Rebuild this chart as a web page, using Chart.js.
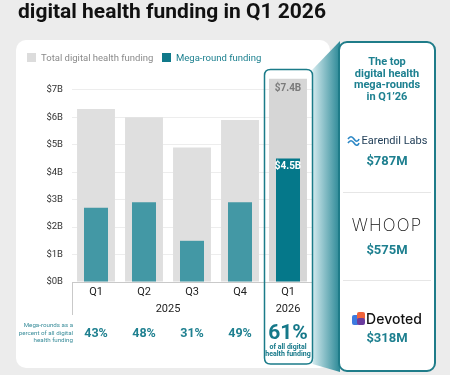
<!DOCTYPE html>
<html><head><meta charset="utf-8">
<script src="https://cdn.jsdelivr.net/npm/chart.js@4.4.1/dist/chart.umd.min.js"></script>
<style>
html,body{margin:0;padding:0;width:450px;height:375px;overflow:hidden;background:#ececec;font-family:Roboto,"Noto Sans",sans-serif;}
.abs{position:absolute;white-space:nowrap;}
#title{left:18px;top:-1px;font-size:21px;line-height:24px;font-weight:700;color:#111;z-index:3;}
#card{left:16px;top:40px;width:314px;height:328px;background:#fff;border-radius:10px;z-index:0;}
canvas{position:absolute;left:0;top:0;z-index:1;}
.sw{width:9px;height:9px;z-index:3;}
.lg{font-size:9.5px;line-height:12px;z-index:3;}
#panel{left:338px;top:41px;width:98px;height:331px;box-sizing:border-box;border:2px solid #1f7c89;border-radius:9px;background:#fff;z-index:2;}
.pt{z-index:3;text-align:center;}
.hd{left:338px;width:98px;top:56px;font-size:11px;line-height:11.7px;font-weight:700;color:#1d8090;white-space:normal;}
.amt{left:338px;width:98px;font-size:13px;line-height:16px;font-weight:700;color:#1d7f8f;}
.sep{left:343px;width:88px;height:1px;background:#e6e6e6;z-index:3;}
</style></head>
<body>
<div id="title" class="abs">digital health funding in Q1 2026</div>
<div id="card" class="abs"></div>
<div class="abs sw" style="left:27px;top:53px;background:#dcdcdc"></div>
<div class="abs lg" id="lg1" style="left:41px;top:52px;color:#8a8a8a"></div>
<div class="abs sw" style="left:162px;top:53px;background:#10798a"></div>
<div class="abs lg" id="lg2" style="left:176px;top:52px;color:#1a7f8e"></div>
<canvas id="c" width="450" height="375"></canvas>
<div id="panel" class="abs"></div>
<div class="abs pt hd">The top<br>digital health<br>mega-rounds<br>in Q1’26</div>

<div class="abs pt" style="left:338px;width:98px;top:133px;height:14px;display:flex;justify-content:center;align-items:center;">
  <svg width="13" height="11" viewBox="0 0 13 11" style="margin-right:2px"><path d="M1 4 C3 1,5 1,7 4 S11 7,12 4" fill="none" stroke="#2a86c5" stroke-width="1.6"/><path d="M1 8 C3 5,5 5,7 8 S11 11,12 8" fill="none" stroke="#2a86c5" stroke-width="1.6"/></svg>
  <span id="co0" style="font-size:11px;color:#24415a;font-family:Roboto"></span>
</div>
<div class="abs pt amt" id="am0" style="top:153px"></div>
<div class="abs sep" style="top:192px"></div>
<div class="abs pt" id="co1" style="left:338px;width:98px;top:214px;font-family:Inter,sans-serif;font-weight:200;font-size:17px;line-height:22px;letter-spacing:1.2px;color:#111"></div>
<div class="abs pt amt" id="am1" style="top:242px"></div>
<div class="abs sep" style="top:280px"></div>
<div class="abs pt" style="left:338px;width:98px;top:309px;height:18px;display:flex;justify-content:center;align-items:center;">
  <svg width="13" height="13" viewBox="0 0 13 13" style="margin-right:1px"><rect x="0" y="3" width="7" height="10" rx="2" fill="#3d7be0"/><rect x="5" y="0" width="8" height="8" rx="2" fill="#f0643c"/><rect x="5" y="6" width="8" height="7" rx="2" fill="#6b3c9e"/></svg>
  <span id="co2" style="font-family:Inter,sans-serif;font-weight:500;font-size:14px;color:#111"></span>
</div>
<div class="abs pt amt" id="am2" style="top:330px"></div>

<script>
const quarters = ['Q1','Q2','Q3','Q4','Q1'];
const years = ['2025','2025','2025','2025','2026'];
const totalFunding = [6.3, 6.0, 4.9, 5.9, 7.4];
const megaFunding = [2.7, 2.9, 1.5, 2.9, 4.5];
const megaShare = [43, 48, 31, 49, 61];
const seriesNames = ['Total digital health funding', 'Mega-round funding'];
const captionLines = ['Mega-rounds as a', 'percent of all digital', 'health funding'];
const highlightNote = ['of all digital', 'health funding'];
const topCompanies = ['Earendil Labs', 'WHOOP', 'Devoted'];
const topAmounts = ['$787M', '$575M', '$318M'];
const highlightIndex = 4;

document.getElementById('lg1').textContent = seriesNames[0];
document.getElementById('lg2').textContent = seriesNames[1];
topCompanies.forEach((c,i)=>{document.getElementById('co'+i).textContent=c;});
topAmounts.forEach((a,i)=>{document.getElementById('am'+i).textContent=a;});

const totalColors = totalFunding.map((v,i)=> i===highlightIndex ? '#d6d6d6' : '#dfdfdf');
const megaColors = megaFunding.map((v,i)=> i===highlightIndex ? '#05788a' : '#4398a5');
const TEAL = '#1b7b89';
const F = 'Roboto, "Noto Sans", sans-serif';

function rr(ctx,x,y,w,h,r){ctx.beginPath();ctx.moveTo(x+r,y);ctx.lineTo(x+w-r,y);ctx.quadraticCurveTo(x+w,y,x+w,y+r);ctx.lineTo(x+w,y+h-r);ctx.quadraticCurveTo(x+w,y+h,x+w-r,y+h);ctx.lineTo(x+r,y+h);ctx.quadraticCurveTo(x,y+h,x,y+h-r);ctx.lineTo(x,y+r);ctx.quadraticCurveTo(x,y,x+r,y);ctx.closePath();}

const extras = {
  id:'extras',
  afterDatasetsDraw(chart){
    const ctx = chart.ctx;
    const tb = chart.getDatasetMeta(0).data[highlightIndex];
    const mb = chart.getDatasetMeta(1).data[highlightIndex];
    ctx.save();
    ctx.textAlign='center'; ctx.textBaseline='middle';
    ctx.font = '700 10px '+F;
    ctx.fillStyle='#7a7a7a';
    ctx.fillText('$'+totalFunding[highlightIndex].toFixed(1)+'B', tb.x, tb.y+9.5);
    ctx.fillStyle='#ffffff';
    ctx.fillText('$'+megaFunding[highlightIndex].toFixed(1)+'B', mb.x, mb.y+8.5);
    ctx.restore();
  },
  afterDraw(chart){
    const ctx = chart.ctx, xs = chart.scales.x, ca = chart.chartArea;
    ctx.save();
    // axis stub below
    ctx.strokeStyle='#c9c9c9'; ctx.lineWidth=1;
    ctx.beginPath(); ctx.moveTo(ca.left+0.5, ca.bottom); ctx.lineTo(ca.left+0.5, 315); ctx.stroke();
    // year labels
    ctx.fillStyle='#222'; ctx.font='11px '+F; ctx.textAlign='center'; ctx.textBaseline='middle';
    let s=0;
    for(let i=1;i<=years.length;i++){
      if(i===years.length || years[i]!==years[s]){
        const x=(xs.getPixelForValue(s)+xs.getPixelForValue(i-1))/2;
        ctx.fillText(years[s], x, 309.5);
        s=i;
      }
    }
    // caption
    ctx.fillStyle='#3a8d9a'; ctx.font='6.2px '+F; ctx.textAlign='right';
    captionLines.forEach((t,k)=>ctx.fillText(t, 73, 325.7+k*7.5));
    // percents
    ctx.textAlign='center';
    megaShare.forEach((p,i)=>{
      const x=xs.getPixelForValue(i);
      if(i===highlightIndex){
        ctx.fillStyle='#157889'; ctx.font='700 21px '+F; ctx.fillText(p+'%', x, 333.5);
        ctx.font='700 7px '+F;
        highlightNote.forEach((t,k)=>ctx.fillText(t, x, 347.7+k*6.8));
      } else {
        ctx.fillStyle='#1f8090'; ctx.font='700 12.5px '+F; ctx.fillText(p+'%', x, 333.5);
      }
    });
    // connector
    const bx1 = xs.getPixelForValue(highlightIndex)-24, bx2 = xs.getPixelForValue(highlightIndex)+24.5;
    const g = ctx.createLinearGradient(bx2,0,340,0);
    g.addColorStop(0,'#d3eaee'); g.addColorStop(1,'#2a8896');
    ctx.fillStyle=g;
    ctx.beginPath(); ctx.moveTo(bx2,69.5); ctx.lineTo(340,41); ctx.lineTo(340,372); ctx.lineTo(bx2,364); ctx.closePath(); ctx.fill();
    // highlight box
    ctx.strokeStyle=TEAL; ctx.lineWidth=1.5;
    rr(ctx,bx1+0.5,69.5,bx2-bx1-0.5,294.5,6); ctx.stroke();
    ctx.restore();
  }
};

new Chart(document.getElementById('c'), {
  type:'bar',
  data:{
    labels: quarters,
    datasets:[
      {label:seriesNames[0], data:totalFunding, backgroundColor:totalColors, barPercentage:0.79, categoryPercentage:1, grouped:false, order:2},
      {label:seriesNames[1], data:megaFunding, backgroundColor:megaColors, barPercentage:0.5, categoryPercentage:1, grouped:false, order:1}
    ]
  },
  options:{
    responsive:false, animation:false, devicePixelRatio:1,
    layout:{padding:{left:16, right:138, top:76, bottom:73}},
    plugins:{legend:{display:false}, tooltip:{enabled:false}},
    scales:{
      x:{grid:{display:false, drawTicks:false}, border:{display:true, color:'#c9c9c9'},
         ticks:{padding:4, color:'#222', font:{size:11, family:F}},
         afterFit:s=>{s.height=20;}},
      y:{min:0, max:7.5, grid:{color:'#ededed', drawTicks:false}, border:{display:false},
         ticks:{stepSize:1, padding:9, color:'#333', font:{size:9.5, family:F}, callback:v=>'$'+v+'B'},
         afterBuildTicks:s=>{s.ticks=s.ticks.filter(t=>Number.isInteger(t.value));},
         afterFit:s=>{s.width=56;}}
    }
  },
  plugins:[extras]
});
</script>
</body></html>
